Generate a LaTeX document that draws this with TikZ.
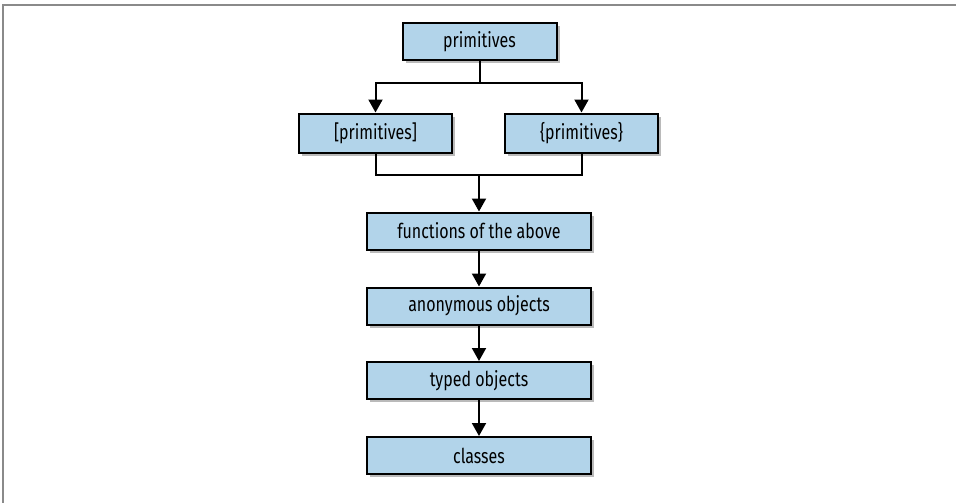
\documentclass[tikz,border=0pt]{standalone}
\usepackage{fontspec}
\setmainfont{Fira Sans}[FakeStretch=0.78]
\usetikzlibrary{arrows.meta,shadows}
\definecolor{boxfill}{HTML}{B2D4EA}
\definecolor{framegray}{HTML}{8A8A8A}
\tikzset{
  flowbox/.style={draw=black, line width=2pt, fill=boxfill, rectangle,
    minimum height=37pt, inner sep=0pt, font=\fontsize{20.5}{22}\selectfont,
    drop shadow={shadow xshift=3pt, shadow yshift=-3pt, fill=black!45, opacity=0.6}},
  conn/.style={line width=2pt, draw=black},
  arr/.style={conn, -{Triangle[width=14pt,length=13pt]}},
}
\begin{document}
\begin{tikzpicture}[x=1pt,y=-1pt]
\useasboundingbox (0,0) rectangle (956,503);
\fill[white] (0,0) rectangle (956,503);
\draw[framegray, line width=2pt] (3,503) -- (3,5) -- (956,5);
\node[flowbox, minimum width=154pt] (prim) at (479.5,41.5) {primitives};
\node[flowbox, minimum width=153pt, minimum height=39pt] (lb) at (375.5,133) {[primitives]};
\node[flowbox, minimum width=153pt, minimum height=39pt] (rb) at (581.5,133) {\{primitives\}};
\node[flowbox, minimum width=224pt] (func) at (479,231) {functions of the above};
\node[flowbox, minimum width=224pt] (anon) at (479,306) {anonymous objects};
\node[flowbox, minimum width=224pt] (typed) at (479,380.5) {typed objects};
\node[flowbox, minimum width=224pt] (cls) at (479,455.5) {classes};
\coordinate (split) at (479.5,83);
\coordinate (merge) at (479,175);
\draw[conn] (prim.south) -- (split);
\draw[arr] (split) -| (lb.north);
\draw[arr] (split) -| (rb.north);
\draw[conn] (lb.south) |- (merge);
\draw[conn] (rb.south) |- (merge);
\draw[arr] (merge) -- (func.north);
\draw[arr] (func.south) -- (anon.north);
\draw[arr] (anon.south) -- (typed.north);
\draw[arr] (typed.south) -- (cls.north);
\end{tikzpicture}
\end{document}
